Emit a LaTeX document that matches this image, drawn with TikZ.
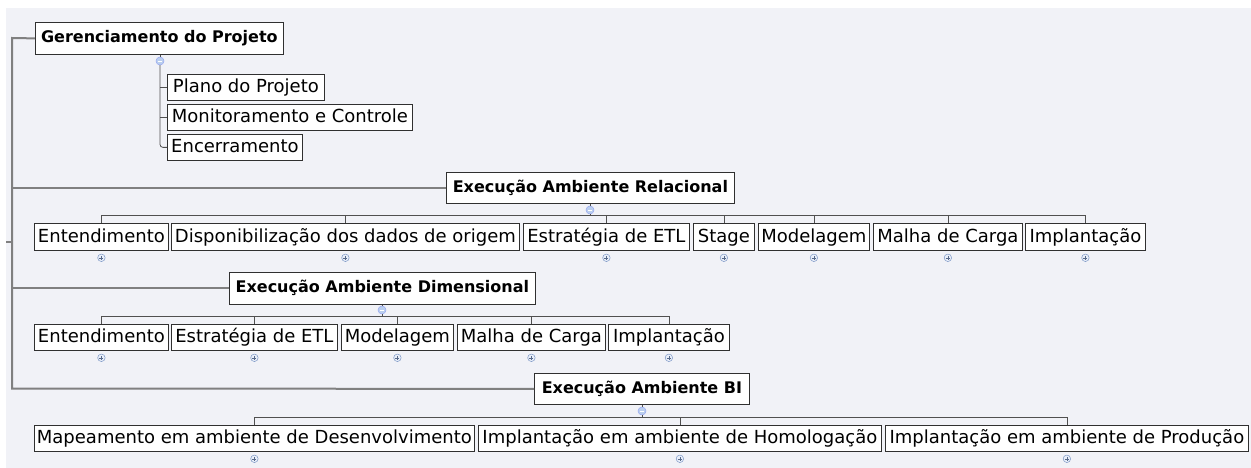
\documentclass[tikz,border=0pt]{standalone}
\usepackage{fontspec}
\setmainfont{DejaVu Sans}
\definecolor{bg}{HTML}{F1F2F7}
\definecolor{boxline}{HTML}{303030}
\definecolor{conline}{HTML}{505050}
\definecolor{trunkline}{HTML}{808080}
\definecolor{iconline}{HTML}{7E98C6}
\definecolor{iconfill}{HTML}{E8EEF9}
\definecolor{minusfill}{HTML}{BACEEE}
\begin{document}
\begin{tikzpicture}[x=1pt,y=-1pt,
  cbox/.style={draw=boxline, line width=0.8pt, fill=white, anchor=north west, inner sep=0pt,
     minimum height=26pt, text height=14.5pt, text depth=3.5pt, font=\fontsize{18}{19}\selectfont},
  pbox/.style={draw=boxline, line width=0.8pt, fill=white, anchor=north west, inner sep=0pt,
     minimum height=32pt, text height=12pt, text depth=3pt, font=\bfseries\fontsize{16}{17}\selectfont},
  cline/.style={draw=conline, line width=0.8pt},
  trunk/.style={draw=trunkline, line width=2pt},
  plusicon/.style={circle, draw=iconline, fill=iconfill, line width=0.5pt, minimum size=7.5pt, inner sep=0pt,
     path picture={\draw[iconline!70!black, line width=0.6pt]
        ([xshift=-2pt]path picture bounding box.center) -- ([xshift=2pt]path picture bounding box.center)
        ([yshift=-2pt]path picture bounding box.center) -- ([yshift=2pt]path picture bounding box.center);}},
  minusicon/.style={circle, draw=minusfill!80!blue, fill=minusfill, line width=0.5pt, minimum size=8pt, inner sep=0pt,
     path picture={\draw[white, line width=0.7pt]
        ([xshift=-2.2pt]path picture bounding box.center) -- ([xshift=2.2pt]path picture bounding box.center);}}
]
% background
\fill[white] (0,0) rectangle (1251,468);
\fill[bg] (6,8) rectangle (1251,468);

% ---------- parents ----------
\node[pbox, minimum width=248pt] (ger) at (35,22) {Gerenciamento do Projeto};
\node[pbox, minimum width=288pt, minimum height=31pt] (rel) at (446,172) {Execução Ambiente Relacional};
\node[pbox, minimum width=306pt] (dim) at (229,272) {Execução Ambiente Dimensional};
\node[pbox, minimum width=215pt, minimum height=31pt] (bi) at (534,373) {Execução Ambiente BI};

% ---------- trunk ----------
\coordinate (ttop) at (12,38);
\coordinate (tbot) at (12,388.5);
\coordinate (stub) at (6,242);
\draw[trunk] (ger.west) -- (ttop) -- (tbot) -- (bi.west);
\draw[trunk] (rel.west) -- (rel.west -| ttop);
\draw[trunk] (dim.west) -- (dim.west -| ttop);
\draw[trunk] (stub) -- (stub -| ttop);

% ---------- Gerenciamento children ----------
\node[cbox, minimum width=157pt] (pla) at (167,74) {Plano do Projeto};
\node[cbox, minimum width=245pt] (mon) at (167,104) {Monitoramento e Controle};
\node[cbox, minimum width=135pt] (enc) at (167,134) {Encerramento};
\node[minusicon] (gc) at (160,61) {};
\draw[cline] (ger.south -| gc) -- (gc.north);
\draw[cline, rounded corners=3pt] (gc.south) -- (gc.south |- enc.west) -- (enc.west);
\draw[cline] (gc.south |- pla.west) -- (pla.west);
\draw[cline] (gc.south |- mon.west) -- (mon.west);

% ---------- Relacional children ----------
\node[cbox, minimum width=134pt, minimum height=27pt] (r1) at (34,223) {Entendimento};
\node[cbox, minimum width=348pt, minimum height=27pt] (r2) at (171,223) {Disponibilização dos dados de origem};
\node[cbox, minimum width=166pt, minimum height=27pt] (r3) at (523,223) {Estratégia de ETL};
\node[cbox, minimum width=61pt, minimum height=27pt] (r4) at (693,223) {Stage};
\node[cbox, minimum width=111pt, minimum height=27pt] (r5) at (758,223) {Modelagem};
\node[cbox, minimum width=149pt, minimum height=27pt] (r6) at (873,223) {Malha de Carga};
\node[cbox, minimum width=120pt, minimum height=27pt] (r7) at (1025,223) {Implantação};
\node[minusicon] (rc) at (590,210) {};
\coordinate (rbus) at (0,215);
\draw[cline] (rel.south -| rc) -- (rc.north);
\draw[cline] (rc.south) -- (rc.south |- rbus);
\draw[cline] (r1.north) -- (r1.north |- rbus) -- (r7.north |- rbus) -- (r7.north);
\foreach \n in {r2,r3,r4,r5,r6} {\draw[cline] (\n.north) -- (\n.north |- rbus);}
\foreach \n in {r1,r2,r3,r4,r5,r6,r7} {\node[plusicon] (\n p) at ([yshift=-7pt]\n.south) {};}

% ---------- Dimensional children ----------
\node[cbox, minimum width=134pt] (d1) at (34,324) {Entendimento};
\node[cbox, minimum width=166pt] (d2) at (171,324) {Estratégia de ETL};
\node[cbox, minimum width=112pt] (d3) at (341,324) {Modelagem};
\node[cbox, minimum width=148pt] (d4) at (457,324) {Malha de Carga};
\node[cbox, minimum width=121pt] (d5) at (608,324) {Implantação};
\node[minusicon] (dc) at (382,310) {};
\coordinate (dbus) at (0,316);
\draw[cline] (dim.south -| dc) -- (dc.north);
\draw[cline] (dc.south) -- (dc.south |- dbus);
\draw[cline] (d1.north) -- (d1.north |- dbus) -- (d5.north |- dbus) -- (d5.north);
\foreach \n in {d2,d3,d4} {\draw[cline] (\n.north) -- (\n.north |- dbus);}
\foreach \n in {d1,d2,d3,d4,d5} {\node[plusicon] (\n p) at ([yshift=-7pt]\n.south) {};}

% ---------- BI children ----------
\node[cbox, minimum width=440pt] (b1) at (34,425) {Mapeamento em ambiente de Desenvolvimento};
\node[cbox, minimum width=403pt] (b2) at (478,425) {Implantação em ambiente de Homologação};
\node[cbox, minimum width=363pt] (b3) at (885,425) {Implantação em ambiente de Produção};
\node[minusicon] (bc) at (642,411) {};
\coordinate (bbus) at (0,417);
\draw[cline] (bi.south -| bc) -- (bc.north);
\draw[cline] (bc.south) -- (bc.south |- bbus);
\draw[cline] (b1.north) -- (b1.north |- bbus) -- (b3.north |- bbus) -- (b3.north);
\draw[cline] (b2.north) -- (b2.north |- bbus);
\foreach \n in {b1,b2,b3} {\node[plusicon] (\n p) at ([yshift=-7pt]\n.south) {};}
\end{tikzpicture}
\end{document}
